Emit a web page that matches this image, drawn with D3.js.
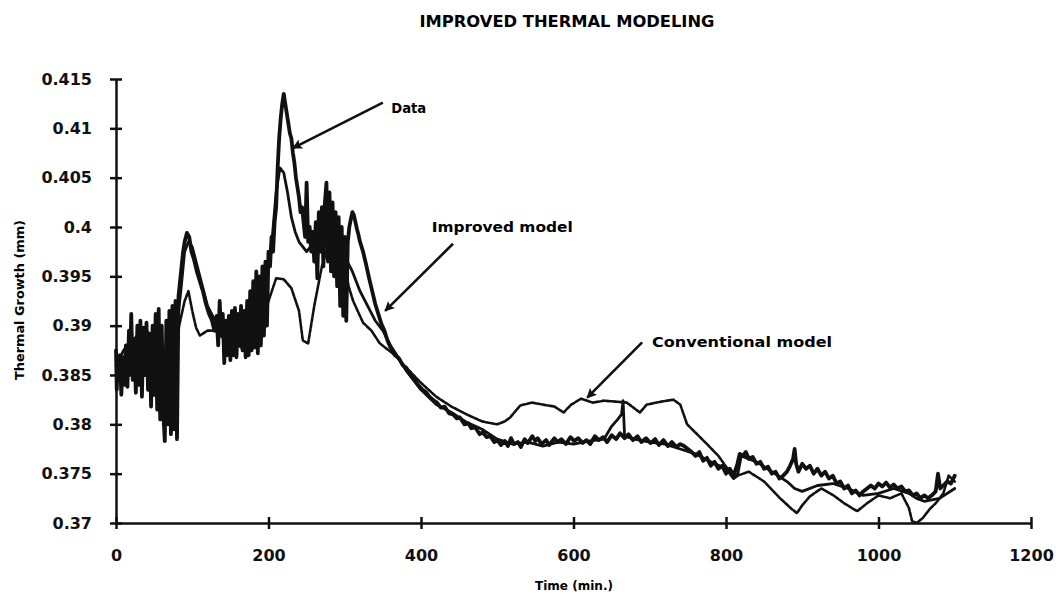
<!DOCTYPE html>
<html>
<head>
<meta charset="utf-8">
<title>Improved thermal modeling</title>
<script src="https://cdnjs.cloudflare.com/ajax/libs/d3/7.8.5/d3.min.js"></script>
<style>
  body { margin: 0; background: #fff; }
  svg { display: block; font-family: 'DejaVu Sans', sans-serif; font-weight: bold; }
  .series { fill: none; stroke: #111; stroke-linejoin: round; stroke-linecap: round; }
  .axis path, .axis line { stroke: #111; stroke-width: 2.5; }
  .axis text { font-family: 'DejaVu Sans', sans-serif; font-weight: bold; font-size: 16px; fill: #111; }
</style>
</head>
<body>
<div id="container"></div>
<script>
// time (min.), thermal growth (mm)
const measured = [
  [0, 0.3875], [1, 0.3835], [2, 0.3860], [4, 0.3845], [5, 0.3870], [7, 0.3830], [9, 0.3868], [11, 0.3840],
  [13, 0.3880], [15, 0.3838], [17, 0.3895], [18, 0.3850], [20, 0.3912], [22, 0.3845], [24, 0.3885], [26, 0.3832],
  [28, 0.3900], [30, 0.3840], [32, 0.3905], [34, 0.3828], [36, 0.3898], [38, 0.3850], [40, 0.3903], [42, 0.3835],
  [44, 0.3892], [46, 0.3818], [48, 0.3900], [50, 0.3830], [52, 0.3912], [54, 0.3815], [56, 0.3917], [58, 0.3805],
  [60, 0.3900], [62, 0.3812], [64, 0.3783], [66, 0.3905], [68, 0.3800], [70, 0.3915], [72, 0.3790], [74, 0.3920],
  [76, 0.3795], [78, 0.3925], [80, 0.3785], [82, 0.3930], [84, 0.3945], [86, 0.3960], [88, 0.3975], [90, 0.3985],
  [93, 0.3994], [96, 0.3990], [99, 0.3975], [102, 0.3968], [106, 0.3955], [110, 0.3945], [114, 0.3935], [118, 0.3922],
  [122, 0.3912], [126, 0.3905], [129, 0.3895], [132, 0.3910], [134, 0.3880], [136, 0.3925], [138, 0.3890], [140, 0.3912],
  [142, 0.3862], [144, 0.3905], [146, 0.3870], [148, 0.3910], [150, 0.3865], [152, 0.3915], [154, 0.3870], [156, 0.3918],
  [158, 0.3868], [160, 0.3912], [162, 0.3880], [164, 0.3920], [166, 0.3875], [168, 0.3915], [170, 0.3868], [172, 0.3925],
  [174, 0.3870], [176, 0.3935], [178, 0.3875], [180, 0.3945], [182, 0.3878], [184, 0.3955], [186, 0.3872], [188, 0.3950],
  [190, 0.3880], [192, 0.3960], [194, 0.3890], [196, 0.3965], [198, 0.3900], [200, 0.3975], [202, 0.3960], [204, 0.3990],
  [206, 0.3975], [208, 0.4005], [210, 0.4020], [212, 0.4060], [214, 0.4090], [216, 0.4110], [218, 0.4125], [220, 0.4135],
  [222, 0.4125], [224, 0.4115], [226, 0.4105], [228, 0.4095], [230, 0.4090], [232, 0.4075], [234, 0.4065], [236, 0.4050],
  [238, 0.4040], [240, 0.4030], [242, 0.4015], [244, 0.4020], [246, 0.4005], [248, 0.3990], [250, 0.4045], [252, 0.3985],
  [254, 0.4000], [256, 0.3975], [258, 0.3995], [260, 0.3965], [262, 0.4005], [264, 0.3948], [266, 0.4015], [268, 0.3975],
  [270, 0.4020], [272, 0.3960], [274, 0.4025], [276, 0.4045], [278, 0.3965], [280, 0.4035], [282, 0.3955], [284, 0.4025],
  [286, 0.3950], [288, 0.4015], [290, 0.3940], [292, 0.4010], [294, 0.3920], [296, 0.4000], [298, 0.3910], [300, 0.3990],
  [302, 0.3905], [304, 0.3985], [306, 0.4000], [308, 0.4008], [310, 0.4015], [312, 0.4012], [314, 0.4005], [316, 0.3998],
  [318, 0.3992], [320, 0.3985], [324, 0.3975], [328, 0.3962], [332, 0.3948], [336, 0.3935], [340, 0.3922], [344, 0.3912],
  [348, 0.3902], [352, 0.3895], [356, 0.3885], [360, 0.3878], [366, 0.3870], [371, 0.3867], [376, 0.3860], [381, 0.3857],
  [387, 0.3849], [392, 0.3845], [396, 0.3840], [402, 0.3835], [406, 0.3833], [411, 0.3828], [417, 0.3824], [421, 0.3822],
  [426, 0.3817], [431, 0.3818], [437, 0.3811], [442, 0.3810], [447, 0.3806], [451, 0.3807], [457, 0.3800], [462, 0.3801],
  [466, 0.3796], [471, 0.3797], [477, 0.3790], [481, 0.3792], [486, 0.3787], [491, 0.3788], [496, 0.3782],
  [500, 0.3784], [505, 0.3779], [510, 0.3783], [514, 0.3778], [518, 0.3786], [522, 0.3780], [527, 0.3782], [531, 0.3777],
  [536, 0.3785], [540, 0.3781], [546, 0.3788], [550, 0.3783], [553, 0.3786], [558, 0.3780], [564, 0.3784], [568, 0.3779],
  [575, 0.3786], [579, 0.3782], [584, 0.3785], [590, 0.3780], [596, 0.3787], [601, 0.3783], [606, 0.3786], [612, 0.3781],
  [617, 0.3784], [622, 0.3780], [628, 0.3788], [633, 0.3784], [639, 0.3787], [644, 0.3782], [650, 0.3789], [656, 0.3785],
  [661, 0.3791], [667, 0.3786], [672, 0.3790], [678, 0.3784], [684, 0.3788], [689, 0.3782], [695, 0.3786], [701, 0.3781],
  [707, 0.3785], [712, 0.3779], [718, 0.3784], [724, 0.3778], [729, 0.3782], [735, 0.3777], [740, 0.3780], [745, 0.3778],
  [750, 0.3775], [755, 0.3772], [760, 0.3768], [765, 0.3772], [770, 0.3763], [775, 0.3766], [780, 0.3758], [785, 0.3762],
  [790, 0.3755], [795, 0.3758], [800, 0.3750], [805, 0.3755], [810, 0.3748], [815, 0.3760], [818, 0.3770], [822, 0.3768],
  [826, 0.3772], [830, 0.3765], [835, 0.3767], [840, 0.3760], [845, 0.3762], [850, 0.3755], [855, 0.3757], [860, 0.3750],
  [865, 0.3752], [870, 0.3745], [875, 0.3748], [880, 0.3752], [884, 0.3758], [888, 0.3765], [890, 0.3775], [892, 0.3760],
  [895, 0.3752], [900, 0.3760], [905, 0.3755], [910, 0.3758], [915, 0.3750], [920, 0.3755], [925, 0.3748], [930, 0.3752],
  [935, 0.3745], [940, 0.3748], [945, 0.3740], [950, 0.3742], [955, 0.3735], [960, 0.3738], [965, 0.3730], [970, 0.3733],
  [975, 0.3728], [980, 0.3732], [985, 0.3735], [990, 0.3738], [995, 0.3735], [1000, 0.3740], [1005, 0.3737], [1010, 0.3741],
  [1015, 0.3736], [1020, 0.3739], [1025, 0.3735], [1030, 0.3737], [1035, 0.3732], [1040, 0.3733], [1045, 0.3728], [1050, 0.3730],
  [1055, 0.3725], [1060, 0.3728], [1065, 0.3725], [1070, 0.3728], [1075, 0.3732], [1078, 0.3750], [1081, 0.3735], [1085, 0.3738],
  [1090, 0.3742], [1095, 0.3740], [1100, 0.3748]
]

const improvedModel = [
  [0, 0.3860], [10, 0.3875], [20, 0.3885], [30, 0.3890], [40, 0.3895], [50, 0.3885], [60, 0.3875], [70, 0.3870],
  [80, 0.3900], [85, 0.3935], [90, 0.3975], [95, 0.3985], [100, 0.3980], [105, 0.3965], [110, 0.3950], [115, 0.3935],
  [120, 0.3920], [130, 0.3905], [140, 0.3895], [150, 0.3890], [160, 0.3905], [170, 0.3915], [180, 0.3930], [190, 0.3945],
  [200, 0.3960], [205, 0.3990], [210, 0.4035], [215, 0.4060], [220, 0.4055], [225, 0.4035], [230, 0.4010], [235, 0.3995],
  [240, 0.3985], [250, 0.3975], [260, 0.3985], [270, 0.4000], [280, 0.4010], [290, 0.3995], [300, 0.3970], [310, 0.3955],
  [320, 0.3935], [330, 0.3920], [340, 0.3905], [350, 0.3895], [360, 0.3880], [370, 0.3868], [380, 0.3855], [390, 0.3845],
  [400, 0.3835], [420, 0.3820], [440, 0.3812], [460, 0.3802], [480, 0.3795], [500, 0.3785], [520, 0.3780], [540, 0.3782],
  [560, 0.3778], [580, 0.3782], [600, 0.3780], [620, 0.3783], [640, 0.3785], [650, 0.3798], [658, 0.3805], [663, 0.3810],
  [665, 0.3824], [667, 0.3788], [680, 0.3785], [700, 0.3782], [720, 0.3780], [740, 0.3775], [760, 0.3770], [780, 0.3762],
  [800, 0.3755], [810, 0.3745], [815, 0.3748], [820, 0.3768], [840, 0.3762], [860, 0.3752], [880, 0.3742], [890, 0.3735],
  [900, 0.3732], [920, 0.3738], [940, 0.3740], [960, 0.3735], [980, 0.3728], [1000, 0.3730], [1020, 0.3735], [1040, 0.3730],
  [1050, 0.3725], [1060, 0.3722], [1080, 0.3725], [1100, 0.3735]
]

const conventionalModel = [
  [0, 0.3850], [10, 0.3860], [20, 0.3870], [30, 0.3880], [40, 0.3880], [50, 0.3875], [60, 0.3868], [70, 0.3872],
  [80, 0.3890], [90, 0.3925], [95, 0.3935], [100, 0.3915], [105, 0.3898], [110, 0.3890], [120, 0.3895], [130, 0.3895],
  [140, 0.3888], [150, 0.3885], [160, 0.3880], [170, 0.3875], [180, 0.3882], [190, 0.3900], [200, 0.3925], [210, 0.3948],
  [220, 0.3947], [230, 0.3938], [240, 0.3915], [245, 0.3885], [252, 0.3882], [260, 0.3920], [270, 0.3960], [280, 0.3985],
  [290, 0.3990], [300, 0.3965], [305, 0.3940], [311, 0.3925], [324, 0.3903], [335, 0.3895], [346, 0.3882], [366, 0.3870],
  [380, 0.3858], [400, 0.3842], [420, 0.3828], [440, 0.3818], [460, 0.3810], [480, 0.3803], [500, 0.3800], [510, 0.3803],
  [517, 0.3807], [530, 0.3819], [545, 0.3822], [560, 0.3820], [575, 0.3818], [587, 0.3812], [597, 0.3820], [610, 0.3826],
  [625, 0.3822], [640, 0.3824], [655, 0.3823], [670, 0.3822], [687, 0.3812], [696, 0.3820], [715, 0.3823], [731, 0.3825],
  [740, 0.3820], [749, 0.3800], [762, 0.3790], [775, 0.3780], [790, 0.3768], [801, 0.3756], [815, 0.3748], [830, 0.3752],
  [850, 0.3742], [871, 0.3725], [885, 0.3715], [893, 0.3710], [900, 0.3718], [910, 0.3727], [925, 0.3735], [941, 0.3728],
  [955, 0.3720], [972, 0.3712], [985, 0.3720], [1000, 0.3728], [1015, 0.3725], [1030, 0.3730], [1040, 0.3715], [1044, 0.3702],
  [1050, 0.3700], [1058, 0.3705], [1067, 0.3714], [1075, 0.3720], [1085, 0.3730], [1092, 0.3748], [1100, 0.3742]
]

const xTicks = [0, 200, 400, 600, 800, 1000, 1200]
const yTicks = [0.37, 0.375, 0.38, 0.385, 0.39, 0.395, 0.4, 0.405, 0.41, 0.415]

// callouts: label anchor and arrow, in data units
const notes = [
  { label: 'Data', at: [361, 0.4121], from: [350, 0.4126], to: [232, 0.4080], len: 35 },
  { label: 'Improved model', at: [414, 0.4000], from: [442, 0.3983], to: [353, 0.3915], len: 141 },
  { label: 'Conventional model', at: [703, 0.3883], from: [690, 0.3883], to: [618, 0.3827], len: 180 }
]

document.addEventListener('DOMContentLoaded', drawChart)

function drawChart() {
  var w = 1056
  var h = 602

  const x = d3.scaleLinear().domain([0, 1200]).range([116, 1031])
  const y = d3.scaleLinear().domain([0.37, 0.415]).range([523, 79])

  var svg = d3.select('div#container')
    .append('svg')
    .attr('width', w)
    .attr('height', h)

  svg.append('defs').append('marker')
    .attr('id', 'head')
    .attr('viewBox', '0 0 10 10')
    .attr('refX', 9)
    .attr('refY', 5)
    .attr('markerUnits', 'userSpaceOnUse')
    .attr('markerWidth', 17)
    .attr('markerHeight', 10)
    .attr('orient', 'auto')
    .append('path')
    .attr('d', 'M0,0 L10,5 L0,10 L2,5 z')
    .attr('fill', '#111')

  const line = d3.line()
    .x(d => x(d[0]))
    .y(d => y(d[1]))

  svg.append('path')
    .datum(conventionalModel)
    .attr('class', 'series')
    .attr('d', line)
    .attr('stroke-width', 2.6)
    .attr('stroke-linecap', 'butt')
    .attr('stroke-dasharray', '4,1.5')

  svg.append('path')
    .datum(improvedModel)
    .attr('class', 'series')
    .attr('d', line)
    .attr('stroke-width', 2.8)

  svg.append('path')
    .datum(measured)
    .attr('class', 'series')
    .attr('d', line)
    .attr('stroke-width', 3.8)

  const yAxis = d3.axisLeft(y)
    .tickValues(yTicks)
    .tickFormat(d => String(+d.toFixed(3)))
    .tickSizeInner(6)
    .tickSizeOuter(0)
    .tickPadding(18)

  const gy = svg.append('g')
    .attr('class', 'axis')
    .attr('transform', 'translate(' + x(0) + ',0)')
    .call(yAxis)
  gy.selectAll('.tick line').attr('x1', -6).attr('x2', 6)

  const xAxis = d3.axisBottom(x)
    .tickValues(xTicks)
    .tickFormat(d3.format('d'))
    .tickSizeInner(6)
    .tickSizeOuter(0)
    .tickPadding(21)

  const gx = svg.append('g')
    .attr('class', 'axis')
    .attr('transform', 'translate(0,' + y(0.37) + ')')
    .call(xAxis)
  gx.selectAll('.tick line').attr('y1', -6).attr('y2', 6)

  svg.append('text')
    .attr('x', 567)
    .attr('y', 27)
    .attr('text-anchor', 'middle')
    .attr('textLength', 295)
    .attr('lengthAdjust', 'spacingAndGlyphs')
    .style('font-size', '15px')
    .text('IMPROVED THERMAL MODELING')

  svg.append('text')
    .attr('x', 574)
    .attr('y', 590)
    .attr('text-anchor', 'middle')
    .attr('textLength', 78)
    .attr('lengthAdjust', 'spacingAndGlyphs')
    .style('font-size', '13px')
    .text('Time (min.)')

  svg.append('text')
    .attr('transform', 'translate(24,300) rotate(-90)')
    .attr('text-anchor', 'middle')
    .attr('textLength', 160)
    .attr('lengthAdjust', 'spacingAndGlyphs')
    .style('font-size', '13px')
    .text('Thermal Growth (mm)')

  const callouts = svg.append('g').attr('id', 'callouts')

  callouts.selectAll('line')
    .data(notes)
    .enter().append('line')
    .attr('x1', d => x(d.from[0]))
    .attr('y1', d => y(d.from[1]))
    .attr('x2', d => x(d.to[0]))
    .attr('y2', d => y(d.to[1]))
    .attr('stroke', '#111')
    .attr('stroke-width', 2.6)
    .attr('marker-end', 'url(#head)')

  callouts.selectAll('text')
    .data(notes)
    .enter().append('text')
    .attr('x', d => x(d.at[0]))
    .attr('y', d => y(d.at[1]))
    .attr('dy', '0.35em')
    .attr('textLength', d => d.len)
    .attr('lengthAdjust', 'spacingAndGlyphs')
    .style('font-size', '14px')
    .text(d => d.label)
}
</script>
</body>
</html>
